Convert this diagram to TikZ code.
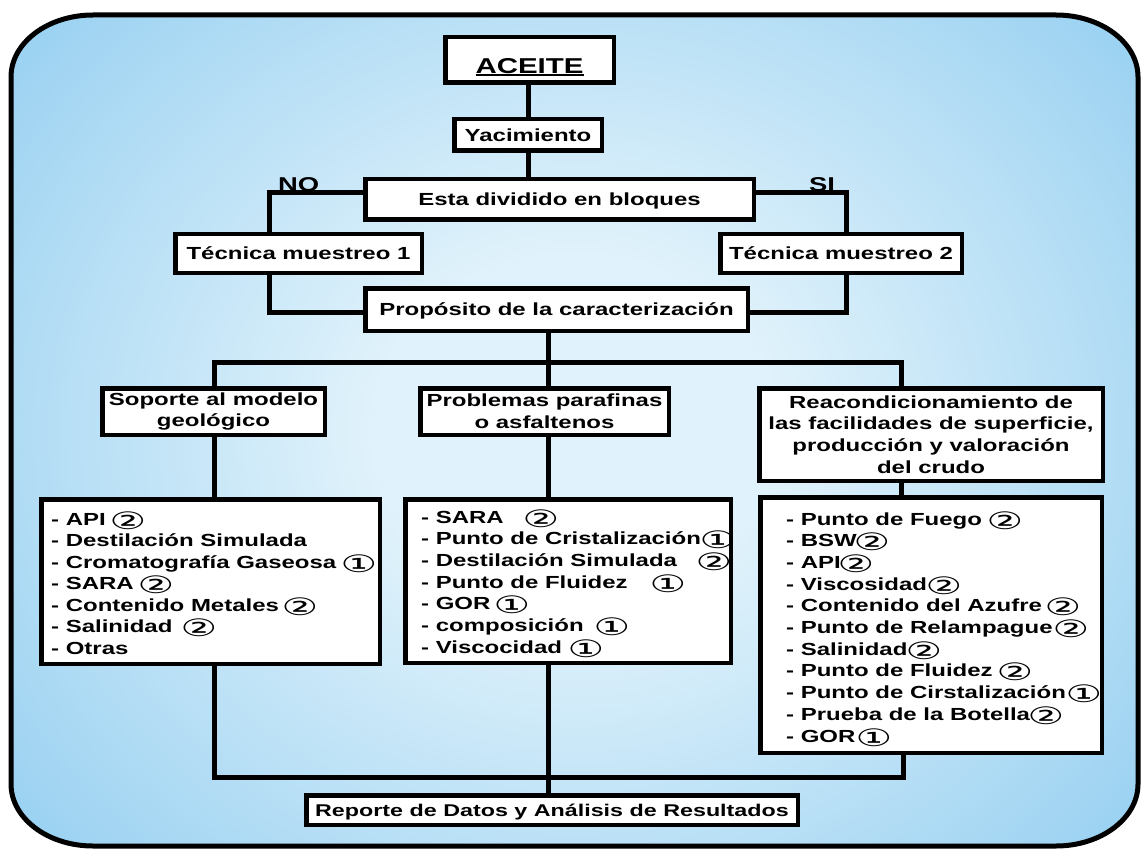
\documentclass[tikz,border=0pt]{standalone}
\usepackage{fontspec}
\setmainfont{Liberation Sans}[FakeStretch=1.37]
\newfontfamily\circfont{DejaVu Sans}[FakeStretch=1.7]
\usetikzlibrary{calc}

\definecolor{bgin}{RGB}{224,242,251}
\definecolor{bgmid}{RGB}{160,212,242}
\definecolor{bgedge}{RGB}{106,188,236}
\definecolor{bgout}{RGB}{90,178,230}
\pgfdeclareradialshading{bluebg}{\pgfpoint{0bp}{0bp}}{color(0bp)=(bgin); color(9bp)=(bgin); color(30bp)=(bgmid); color(45bp)=(bgedge); color(72bp)=(bgout)}

\pgfdeclarelayer{bg}
\pgfsetlayers{bg,main}

% circled figures (no effect on the line spacing)
\newcommand\cn[1]{{\circfont\mdseries\fontsize{24}{24}\selectfont\raisebox{-4pt}[0pt][0pt]{\ifcase#1\or ①\or ②\fi}}}
% list line with a circled figure at a fixed offset, and a plain list line
\newcommand\li[3]{\hbox{\rlap{- #1}\hskip\dimexpr#2pt-2.5pt\relax\cn{#3}}}
\newcommand\lo[1]{\hbox{- #1}}
% underlined word
\newcommand\ulword[1]{\setbox0\hbox{#1}\rlap{\rule[-2.8pt]{\wd0}{1.8pt}}\box0}

\begin{document}
\begin{tikzpicture}[x=1pt,y=-1pt,
  box/.style={draw=black,line width=4.5pt,fill=white,inner sep=0pt,align=center,
    font=\bfseries\fontsize{17.5}{21.6}\selectfont},
  one/.style={text height=16pt,text depth=3.4pt},
  conn/.style={draw=black,line width=5pt,line join=miter},
  lbl/.style={inner sep=0pt,anchor=base west,font=\bfseries\fontsize{20}{20}\selectfont},
  listtxt/.style={inner sep=0pt,anchor=base west,font=\bfseries\fontsize{17.5}{21.6}\selectfont}]

\useasboundingbox (0,0) rectangle (1145,850);

% boxes of the flow chart
\node[box,one,minimum width=168.5pt,minimum height=45.5pt,text height=26.6pt,text depth=0pt,
  font=\bfseries\fontsize{21.5}{24}\selectfont] (aceite) at (529.5,60) {\ulword{ACEITE}};
\node[box,one,minimum width=147.5pt,minimum height=31.5pt] (yac) at (528,135) {Yacimiento};
\node[box,one,minimum width=388.5pt,minimum height=40.5pt] (bloques) at (559.5,199.5) {Esta dividido en bloques};
\node[box,one,minimum width=246.5pt,minimum height=39pt] (tm1) at (298.5,253.5) {Técnica muestreo 1};
\node[box,one,minimum width=241.5pt,minimum height=39pt] (tm2) at (841,253.5) {Técnica muestreo 2};
\node[box,one,minimum width=382.5pt,minimum height=42.5pt] (prop) at (556.5,309.5) {Propósito de la caracterización};
\node[box,minimum width=222.5pt,minimum height=46.5pt] (soporte) at (213.5,411.5) {Soporte al modelo\\geológico};
\node[box,minimum width=248.5pt,minimum height=46.5pt] (prob) at (544.5,411.5) {Problemas parafinas\\o asfaltenos};
\node[box,minimum width=343.5pt,minimum height=92.5pt] (reac) at (931,434.5)
  {Reacondicionamiento de\\las facilidades de superficie,\\producción y valoración\\del crudo};
\node[box,minimum width=338.5pt,minimum height=164.5pt] (l1box) at (210.5,581.5) {};
\node[box,minimum width=325.5pt,minimum height=163.5pt] (l2box) at (568,581) {};
\node[box,minimum width=341.5pt,minimum height=255.5pt] (l3box) at (931,625) {};
\node[box,one,minimum width=491.5pt,minimum height=29.5pt,font=\bfseries\fontsize{17}{20}\selectfont]
  (rep) at (552,810) {Reporte de Datos y Análisis de Resultados};

% list contents
\node[listtxt] (l1txt) at (51,525) {\vtop{\baselineskip=21.5pt
  \li{API}{61}{2}
  \lo{Destilación Simulada}
  \li{Cromatografía Gaseosa}{292}{1}
  \li{SARA}{89}{2}
  \li{Contenido Metales}{233}{2}
  \li{Salinidad}{132}{2}
  \lo{Otras}}};
\node[listtxt] (l2txt) at (421,523) {\vtop{\baselineskip=21.7pt
  \li{SARA}{104}{2}
  \li{Punto de Cristalización}{281}{1}
  \li{Destilación Simulada}{277}{2}
  \li{Punto de Fluidez}{231}{1}
  \li{GOR}{75}{1}
  \li{composición}{175}{1}
  \li{Viscocidad}{149}{1}}};
\node[listtxt] (l3txt) at (786,525) {\vtop{\baselineskip=21.7pt
  \li{Punto de Fuego}{203}{2}
  \li{BSW}{70}{2}
  \li{API}{54}{2}
  \li{Viscosidad}{142}{2}
  \li{Contenido del Azufre}{261}{2}
  \li{Punto de Relampague}{269}{2}
  \li{Salinidad}{122}{2}
  \li{Punto de Fluidez}{213}{2}
  \li{Punto de Cirstalización}{282}{1}
  \li{Prueba de la Botella}{244}{2}
  \li{GOR}{72}{1}}};

% branch labels
\node[lbl] (nolab) at (278,192) {NO};
\node[lbl] (silab) at (809,192) {SI};

% bends and junctions of the connectors
\coordinate (noA) at (269,193);
\coordinate (noB) at (269,312);
\coordinate (siA) at (846,193);
\coordinate (siB) at (846,312);
\coordinate (hubL) at (214,362);
\coordinate (hubM) at (548,362);
\coordinate (hubR) at (901,362);
\coordinate (botL) at (214,777);
\coordinate (botR) at (903,777);

\begin{pgfonlayer}{bg}
  \fill[white] (0,0) rectangle (1145,850);
  % rounded frame with a light radial blue
  \begin{scope}
    \clip (93,15) -- (1056,15) arc[start angle=-90,end angle=0,x radius=82,y radius=62]
      -- (1138,784) arc[start angle=0,end angle=90,x radius=82,y radius=62]
      -- (93,846) arc[start angle=90,end angle=180,x radius=82,y radius=62]
      -- (11,77) arc[start angle=180,end angle=270,x radius=82,y radius=62] -- cycle;
    \shade[shading=bluebg] (11,-60) rectangle (1138,920);
  \end{scope}
  \draw[line width=5pt] (93,15) -- (1056,15) arc[start angle=-90,end angle=0,x radius=82,y radius=62]
      -- (1138,784) arc[start angle=0,end angle=90,x radius=82,y radius=62]
      -- (93,846) arc[start angle=90,end angle=180,x radius=82,y radius=62]
      -- (11,77) arc[start angle=180,end angle=270,x radius=82,y radius=62] -- cycle;

  % connectors
  \draw[conn] (aceite.south -| yac.north) -- (yac.north);
  \draw[conn] (yac.south) -- (yac.south |- bloques.north);
  \draw[conn] (bloques.west |- noA) -- (noA) -- (noA |- tm1.north);
  \draw[conn] (noA |- tm1.south) -- (noB) -- (noB -| prop.west);
  \draw[conn] (bloques.east |- siA) -- (siA) -- (siA |- tm2.north);
  \draw[conn] (siA |- tm2.south) -- (siB) -- (siB -| prop.east);
  \draw[conn] (hubM |- prop.south) -- (hubM);
  \draw[conn] (hubL |- soporte.north) -- (hubL) -- (hubR) -- (hubR |- reac.north);
  \draw[conn] (hubM) -- (hubM |- prob.north);
  \draw[conn] (soporte.south -| hubL) -- (l1box.north -| hubL);
  \draw[conn] (prob.south -| hubM) -- (l2box.north -| hubM);
  \draw[conn] (reac.south -| hubR) -- (l3box.north -| hubR);
  \draw[conn] (l1box.south -| botL) -- (botL) -- (botR) -- (l3box.south -| botR);
  \draw[conn] (l2box.south -| hubM) -- (rep.north -| hubM);
\end{pgfonlayer}
\end{tikzpicture}
\end{document}
